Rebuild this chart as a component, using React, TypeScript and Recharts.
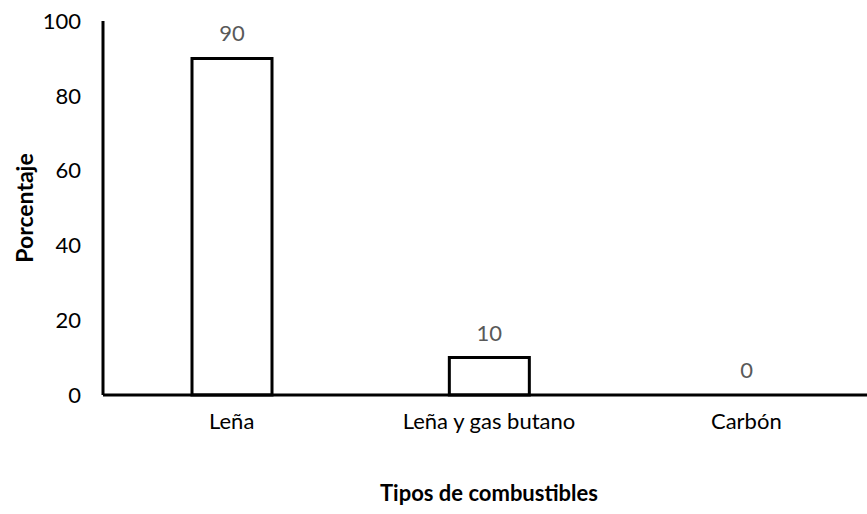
import { BarChart, Bar, XAxis, YAxis, LabelList, Cell } from "recharts";

const categories = ["Leña", "Leña y gas butano", "Carbón"];
const porcentaje = [90, 10, 0];
const yTicks = [0, 20, 40, 60, 80, 100];

const data = categories.map((name, i) => ({ name, value: porcentaje[i] }));

const font = "Lato, 'Open Sans', sans-serif";

function YTitle({ viewBox }: any) {
  const cy = viewBox.y + viewBox.height / 2;
  return (
    <text
      x={33}
      y={cy}
      transform={`rotate(-90, 33, ${cy})`}
      textAnchor="middle"
      fontWeight="bold"
      fontSize={23}
      fontFamily={font}
      fill="#000"
    >
      Porcentaje
    </text>
  );
}

export default function App() {
  return (
    <div
      style={{
        position: "fixed",
        left: 0,
        top: 0,
        width: 867,
        height: 514,
        overflow: "hidden",
        background: "#fff",
      }}
    >
      <BarChart
        width={880}
        height={514}
        data={data}
        margin={{ top: 21, right: 5, left: 0, bottom: 0 }}
        style={{ fontFamily: font }}
      >
        <YAxis
          width={103}
          domain={[0, 100]}
          ticks={yTicks}
          interval={0}
          axisLine={{ stroke: "#000", strokeWidth: 3 }}
          tickLine={false}
          tickMargin={16}
          tick={{ fill: "#000", fontSize: 22 }}
          label={<YTitle />}
        />
        <XAxis
          dataKey="name"
          height={119}
          axisLine={{ stroke: "#000", strokeWidth: 3 }}
          tickLine={false}
          tickMargin={12}
          tick={{ fill: "#000", fontSize: 22 }}
          label={{
            value: "Tipos de combustibles",
            position: "insideBottom",
            offset: 13,
            fill: "#000",
            fontSize: 22,
            fontWeight: "bold",
          }}
        />
        <Bar
          dataKey="value"
          fill="#fff"
          stroke="#000"
          strokeWidth={3}
          barSize={80}
          minPointSize={(v: number) => (v === 0 ? 0.01 : 0)}
          isAnimationActive={false}
        >
          {data.map((d) => (
            <Cell key={d.name} stroke={d.value === 0 ? "none" : "#000"} />
          ))}
          <LabelList
            dataKey="value"
            position="top"
            offset={17}
            fill="#595959"
            fontSize={22}
          />
        </Bar>
      </BarChart>
    </div>
  );
}
